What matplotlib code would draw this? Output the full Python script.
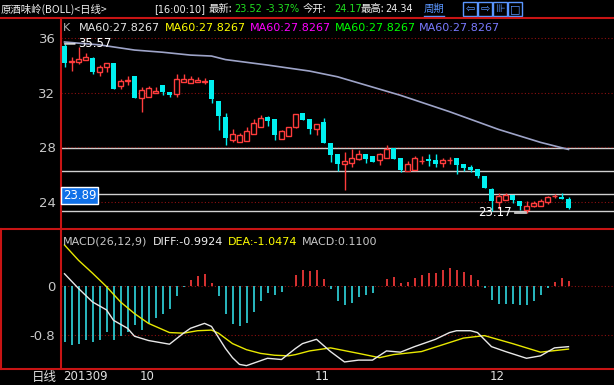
import numpy as np
import matplotlib
matplotlib.use("Agg")
import matplotlib.pyplot as plt
from matplotlib.lines import Line2D
from matplotlib.patches import Rectangle

plt.rcParams['font.family'] = ['DejaVu Sans', 'Noto Sans CJK SC']

# daily candles, 2013-09 .. 2013-12
opens = [35.41, 34.24, 34.24, 34.39, 34.53, 33.51, 33.87, 34.17, 32.48, 32.85,
         33.21, 31.60, 31.67, 31.97, 32.55, 32.04, 31.89, 32.77, 32.70, 32.77,
         32.77, 32.92, 31.38, 30.21, 28.52, 28.38, 28.45, 28.96, 29.48, 30.21,
         30.06, 28.60, 28.82, 29.48, 30.50, 30.06, 29.33, 29.84, 28.30, 27.50,
         26.76, 26.84, 27.13, 27.50, 27.35, 27.06, 27.20, 27.94, 27.20, 26.25,
         26.32, 26.95, 27.13, 27.06, 26.84, 27.04, 27.20, 26.76, 26.54, 26.40,
         25.88, 24.93, 23.98, 24.12, 24.49, 24.05, 23.39, 23.68, 23.68, 23.98,
         24.40, 24.34, 24.17]
closes = [34.17, 34.31, 34.46, 34.61, 33.51, 33.87, 34.17, 32.26, 32.85, 32.92,
          31.60, 32.19, 32.33, 32.11, 32.04, 31.82, 32.99, 32.99, 32.99, 32.92,
          32.82, 31.53, 30.28, 28.67, 28.96, 28.89, 29.18, 29.77, 30.13, 29.91,
          28.89, 29.18, 29.48, 30.43, 29.99, 29.33, 29.70, 28.30, 27.42, 26.76,
          26.98, 27.20, 27.50, 27.13, 26.91, 27.50, 27.86, 27.13, 26.32, 26.76,
          27.20, 27.00, 26.98, 26.76, 27.06, 27.08, 26.69, 26.47, 26.32, 25.88,
          25.00, 24.05, 24.42, 24.49, 24.12, 23.68, 23.68, 23.90, 24.05, 24.34,
          24.44, 24.20, 23.52]
highs = [35.57, 34.61, 35.34, 34.90, 34.61, 34.02, 34.17, 34.17, 32.99, 33.21,
         33.21, 32.41, 32.48, 32.41, 32.55, 32.04, 33.36, 33.36, 33.21, 33.14,
         33.07, 32.92, 31.38, 30.50, 29.33, 29.04, 29.48, 30.06, 30.35, 30.28,
         30.06, 29.26, 29.48, 30.43, 30.50, 30.06, 29.70, 30.13, 28.30, 27.50,
         27.64, 27.86, 27.79, 27.50, 27.35, 27.57, 28.16, 27.94, 27.20, 26.98,
         27.35, 27.35, 27.50, 27.50, 27.20, 27.28, 27.20, 26.76, 26.69, 26.40,
         25.88, 25.00, 24.64, 24.64, 24.49, 24.05, 24.05, 24.05, 24.20, 24.42,
         24.56, 24.64, 24.34]
lows = [33.87, 33.58, 34.09, 34.39, 33.36, 33.21, 33.51, 32.26, 32.26, 32.55,
        31.60, 30.57, 31.67, 31.97, 31.82, 31.67, 31.67, 32.77, 32.70, 32.77,
        32.63, 31.23, 29.26, 28.16, 28.38, 28.38, 28.45, 28.96, 29.48, 29.55,
        28.52, 28.60, 28.82, 29.40, 29.99, 28.96, 28.89, 28.30, 26.91, 26.25,
        24.86, 26.54, 27.06, 26.84, 26.91, 26.69, 27.20, 27.13, 26.18, 26.25,
        26.32, 26.76, 26.62, 26.54, 26.54, 26.76, 26.03, 26.25, 26.18, 25.74,
        25.00, 23.32, 23.46, 24.12, 23.90, 23.39, 23.17, 23.61, 23.68, 23.83,
        24.27, 24.20, 23.46]

ma60_idx = [0, 5, 10, 14, 18, 21, 23, 29, 35, 39, 48, 55, 62, 68, 72]
ma60_val = [35.71, 35.50, 35.12, 34.96, 34.75, 34.68, 34.42, 34.02, 33.58, 33.16,
            31.80, 30.60, 29.30, 28.35, 27.83]

hline_levels = [27.91, 26.23, 24.56, 23.32]

macd_hist = [-0.92, -0.97, -0.95, -0.88, -0.92, -0.88, -0.75, -0.88, -0.82, -0.75,
             -0.64, -0.72, -0.61, -0.53, -0.46, -0.37, -0.16, -0.02, 0.10, 0.16,
             0.20, 0.05, -0.16, -0.46, -0.62, -0.66, -0.60, -0.43, -0.24, -0.11,
             -0.14, -0.09, 0.00, 0.18, 0.26, 0.24, 0.26, 0.11, -0.05, -0.24,
             -0.31, -0.28, -0.18, -0.15, -0.11, 0.005, 0.11, 0.14, 0.05, 0.07,
             0.13, 0.18, 0.21, 0.21, 0.26, 0.29, 0.26, 0.23, 0.18, 0.10,
             -0.03, -0.23, -0.29, -0.29, -0.29, -0.31, -0.31, -0.24, -0.15, -0.03,
             0.07, 0.13, 0.08]

diff_idx = [0, 2, 4, 6, 7, 9, 10, 12, 15, 17, 18, 20, 21, 23, 24, 25, 26, 27, 29, 31,
            33, 34, 36, 38, 40, 42, 44, 46, 48, 50, 53, 55, 56, 58, 59, 61, 63, 66,
            68, 70, 72]
diff_val = [0.20, -0.04, -0.26, -0.39, -0.56, -0.69, -0.82, -0.89, -0.95, -0.77,
            -0.69, -0.61, -0.66, -1.02, -1.17, -1.28, -1.30, -1.26, -1.18, -1.20,
            -1.02, -0.94, -0.87, -1.07, -1.24, -1.21, -1.21, -1.06, -1.08, -0.99,
            -0.87, -0.76, -0.73, -0.73, -0.76, -0.99, -1.07, -1.18, -1.14, -1.01,
            -0.99]
dea_idx = [0, 2, 4, 6, 8, 10, 12, 15, 17, 19, 21, 22, 24, 26, 28, 30, 32, 33, 35, 38,
           42, 45, 47, 51, 54, 57, 60, 64, 68, 72]
dea_val = [0.67, 0.42, 0.21, -0.01, -0.26, -0.45, -0.61, -0.76, -0.77, -0.73,
           -0.72, -0.77, -0.94, -1.04, -1.10, -1.13, -1.14, -1.12, -1.06, -1.01,
           -1.10, -1.17, -1.12, -1.07, -0.96, -0.85, -0.81, -0.94, -1.08, -1.03]

month_idx = [0, 11, 36, 61]
month_lbl = ['201309', '10', '11', '12']

RED = '#ff3c3c'
CYAN = '#00f0f0'
FRAME = '#c81414'
GRID = '#8c1010'
TXT = '#c8c8c8'

W, H = 614, 385
def fx(px):
    return px / W
def fy(py):
    return 1 - py / H

fig = plt.figure(figsize=(W / 100, H / 100), dpi=100, facecolor='black')
ax = fig.add_axes([fx(61), fy(228), fx(553), 210 / H], facecolor='black')
ax2 = fig.add_axes([fx(61), fy(369), fx(553), 140 / H], facecolor='black')

x = np.arange(len(opens))
o = np.array(opens); c = np.array(closes)
hi = np.array(highs); lo = np.array(lows)
up = c >= o
dn = ~up

# candles
ax.vlines(x[up], lo[up], hi[up], color=RED, lw=1, zorder=2)
ax.vlines(x[dn], lo[dn], hi[dn], color=CYAN, lw=1, zorder=2)
ax.bar(x[up], np.maximum(c[up] - o[up], 0.05), bottom=o[up], width=0.7,
       facecolor='black', edgecolor=RED, lw=1, zorder=3)
ax.bar(x[dn], np.maximum(o[dn] - c[dn], 0.07), bottom=c[dn], width=0.75,
       color=CYAN, lw=0, zorder=3)

ax.plot(ma60_idx, ma60_val, color='#9ea4c8', lw=1.2, zorder=4)

for lv in hline_levels:
    ax.axhline(lv, color='#d0d0d0', lw=1, zorder=1)
for g in [24, 28, 32, 36]:
    ax.axhline(g, color=GRID, lw=0.8, ls=(0, (1, 2)), zorder=1)

ax.set_xlim(-0.5, 78.5)
ax.set_ylim(22.07, 37.47)

# high / low marks
ax.annotate('35.57', xy=(0, 35.57), xytext=(1.9, 35.57), color='white', fontsize=8.5,
            va='center', ha='left', zorder=6,
            arrowprops=dict(arrowstyle='-', color='white', lw=1, shrinkA=0, shrinkB=0))
ax.annotate('23.17', xy=(66, 23.17), xytext=(63.9, 23.17), color='white', fontsize=8.5,
            va='center', ha='right', zorder=6,
            arrowprops=dict(arrowstyle='-', color='white', lw=1, shrinkA=0, shrinkB=0))

# macd panel
hist = np.array(macd_hist)
ax2.vlines(x[hist >= 0], 0, hist[hist >= 0], color=RED, lw=1.2)
ax2.vlines(x[hist < 0], 0, hist[hist < 0], color='#30d8e0', lw=1.2)
ax2.plot(dea_idx, dea_val, color='#e8e800', lw=1)
ax2.plot(diff_idx, diff_val, color='#e8e8e8', lw=1)
for g in [0, -0.8]:
    ax2.axhline(g, color=GRID, lw=0.8, ls=(0, (1, 2)), zorder=0)
ax2.set_xlim(-0.5, 78.5)
ax2.set_ylim(-1.355, 0.931)

for a, ticks, lbls in [(ax, [24, 28, 32, 36], ['24', '28', '32', '36']),
                       (ax2, [0, -0.8], ['0', '-0.8'])]:
    a.set_xticks([])
    a.set_yticks(ticks)
    a.set_yticklabels(lbls)
    a.tick_params(axis='y', length=0, pad=4, labelcolor=TXT, labelsize=9.5)
    for s in a.spines.values():
        s.set_visible(False)

for i, lb in zip(month_idx, month_lbl):
    ax2.text(i - 0.25, -0.057, lb, transform=ax2.get_xaxis_transform(),
             color='#e0e0e0', fontsize=8.5, ha='left', va='center')
fig.text(fx(57), fy(377), '日线', color='#e0e0e0', fontsize=9, ha='right', va='center',
         family=['Noto Sans CJK SC'])

# legend texts
fig.text(fx(63), fy(28), 'K', color='#b4b4b4', fontsize=8, va='center')
ma_cols = ['#e6e6e6', '#ffff00', '#ff00ff', '#00ff00', '#7a7aff']
ma_x = [79, 165, 250, 335, 419]
for px, col in zip(ma_x, ma_cols):
    fig.text(fx(px), fy(28), 'MA60:27.8267', color=col, fontsize=8, va='center')
fig.text(fx(63), fy(242), 'MACD(26,12,9)', color='#c8c8c8', fontsize=8, va='center')
fig.text(fx(153), fy(242), 'DIFF:-0.9924', color='#f0f0f0', fontsize=8, va='center')
fig.text(fx(228), fy(242), 'DEA:-1.0474', color='#ffff00', fontsize=8, va='center')
fig.text(fx(302), fy(242), 'MACD:0.1100', color='#c8c8c8', fontsize=8, va='center')

# price cursor label
fig.text(fx(63), fy(195.5), '23.89', color='white', fontsize=8.5, va='center', ha='left',
         bbox=dict(boxstyle='square,pad=0.15', facecolor='#1070e8', edgecolor='white', lw=1))

# title bar
cjk = ['Noto Sans CJK SC', 'DejaVu Sans']
title_items = [
    (1, '原酒味岭(BOLL)<日线>', '#f0f0f0', 7.5),
    (154, '[16:00:10]', '#f0f0f0', 7),
    (209, '最新:', '#f0f0f0', 7.5),
    (234, '23.52', '#20e020', 7),
    (266, '-3.37%', '#20e020', 7),
    (303, '今开:', '#f0f0f0', 7.5),
    (334, '24.17', '#20e020', 7),
    (361, '最高:', '#f0f0f0', 7.5),
    (385, '24.34', '#f0f0f0', 7),
]
for px, s, col, fs in title_items:
    fam = cjk if fs == 7.5 else ['DejaVu Sans']
    fig.text(fx(px), fy(9), s, color=col, fontsize=fs, va='center', family=fam)
fig.text(fx(424), fy(9), '周期', color='#5a96ff', fontsize=7.5, va='center', family=cjk)
fig.add_artist(Line2D([fx(424), fx(444)], [fy(16), fy(16)], color='#5a96ff', lw=1,
                      transform=fig.transFigure))
icons = ['⇦', '⇨', '⊪', '□']
for k, sym in enumerate(icons):
    x0 = 463 + k * 15
    fig.add_artist(Rectangle((fx(x0), fy(16)), fx(14), 14 / H, transform=fig.transFigure,
                             facecolor='none', edgecolor='#5a96ff', lw=1))
    fig.text(fx(x0 + 7), fy(9), sym, color='#5a96ff', fontsize=8, ha='center', va='center')

# frame lines
def fline(x0, y0, x1, y1):
    fig.add_artist(Line2D([fx(x0), fx(x1)], [fy(y0), fy(y1)], color=FRAME, lw=1.5,
                          transform=fig.transFigure))
fline(0, 18, W, 18)
fline(0, 228.5, W, 228.5)
fline(0, 369, W, 369)
fline(61, 18, 61, 369)
fline(1, 228.5, 1, 369)

fig.savefig('out.png', dpi=100, facecolor='black')
